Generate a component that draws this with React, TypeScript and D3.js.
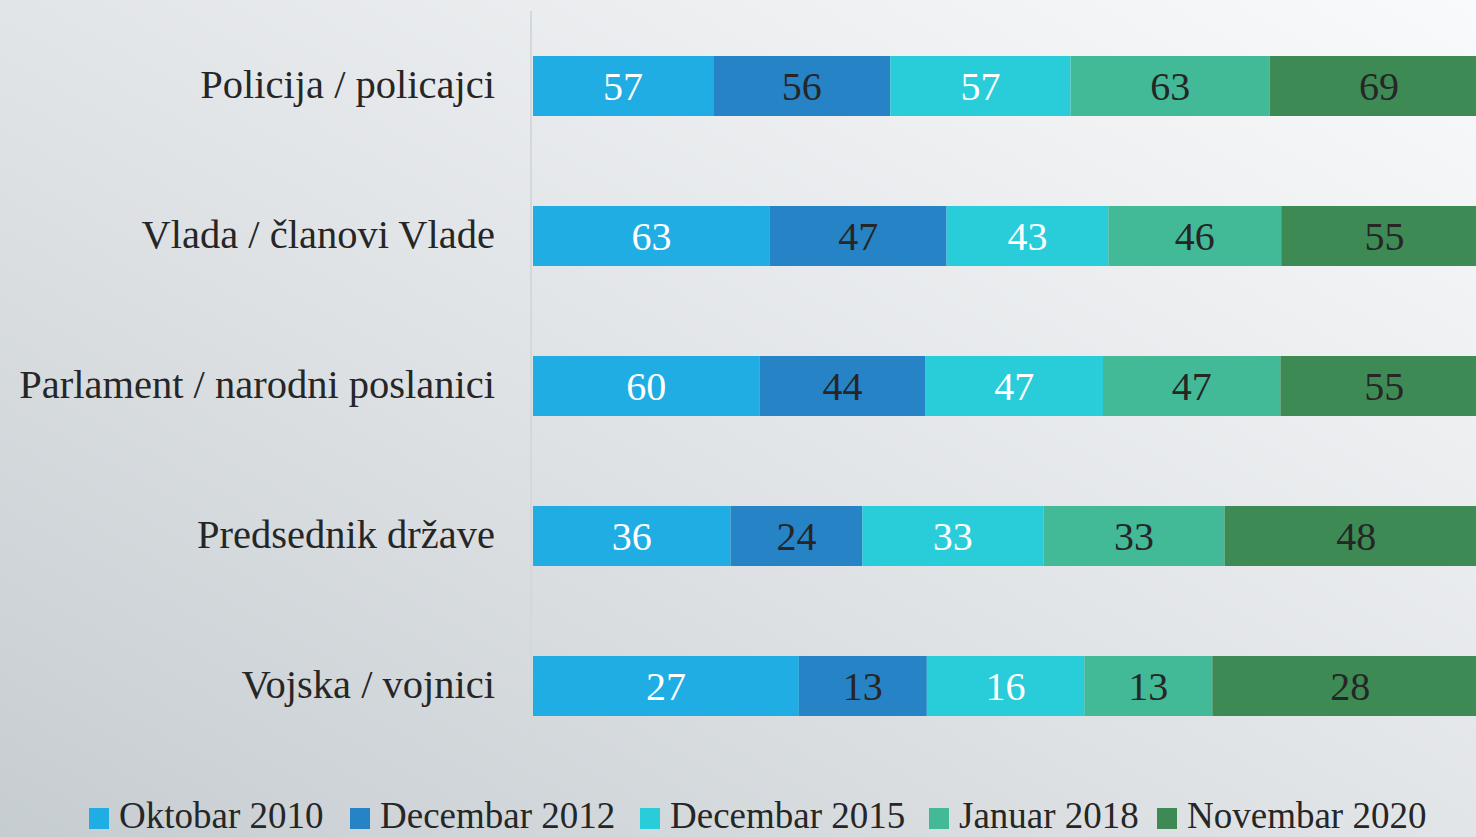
import React from "react";
import * as d3 from "d3";

const categories = [
  "Policija / policajci",
  "Vlada / članovi Vlade",
  "Parlament / narodni poslanici",
  "Predsednik države",
  "Vojska / vojnici",
];
const seriesNames = [
  "Oktobar 2010",
  "Decembar 2012",
  "Decembar 2015",
  "Januar 2018",
  "Novembar 2020",
];
const oktobar2010 = [57, 63, 60, 36, 27];
const decembar2012 = [56, 47, 44, 24, 13];
const decembar2015 = [57, 43, 47, 33, 16];
const januar2018 = [63, 46, 47, 33, 13];
const novembar2020 = [69, 55, 55, 48, 28];
const seriesValues = [oktobar2010, decembar2012, decembar2015, januar2018, novembar2020];
const colors = ["#1FADE4", "#2683C6", "#29CCD9", "#42BA97", "#3D8A55"];
const labelColors = ["#FFFFFF", "#262626", "#FFFFFF", "#262626", "#262626"];

const W = 1476;
const H = 837;
const FONT = "'Liberation Serif', 'DejaVu Serif', serif";

export default function App() {
  const x = d3.scaleLinear().domain([0, 1]).range([533, 1488]);
  const y = d3
    .scaleBand<string>()
    .domain(categories)
    .range([11, 761])
    .paddingInner(0.6)
    .paddingOuter(0.3);

  const rows = categories.map((c, i) => {
    const vals = seriesValues.map((s) => s[i]);
    const total = d3.sum(vals);
    let acc = 0;
    const segs = vals.map((v, j) => {
      const x0 = acc / total;
      acc += v;
      const x1 = acc / total;
      return { v, j, x0, x1 };
    });
    return { c, segs };
  });

  const legendX = [89, 350, 640, 929, 1157];

  return (
    <svg
      width={W}
      height={H}
      style={{ position: "absolute", left: 0, top: 0, display: "block" }}
    >
      <defs>
        <linearGradient id="bg" x1="0" y1="1" x2="1" y2="0">
          <stop offset="0" stopColor="#C6CDD1" />
          <stop offset="0.5" stopColor="#E2E5E8" />
          <stop offset="1" stopColor="#F9FAFB" />
        </linearGradient>
      </defs>
      <rect x={0} y={0} width={W} height={H} fill="url(#bg)" />
      <line x1={531} x2={531} y1={11} y2={761} stroke="#D5D8DB" strokeWidth={2} />
      {rows.map((r) => {
        const by = y(r.c)!;
        const bh = y.bandwidth();
        return (
          <g key={r.c}>
            <text
              x={495}
              y={by + bh / 2 + 12}
              textAnchor="end"
              fontFamily={FONT}
              fontSize={40.5}
              fill="#262626"
            >
              {r.c}
            </text>
            {r.segs.map((s) => (
              <g key={s.j}>
                <rect
                  x={x(s.x0)}
                  y={by}
                  width={x(s.x1) - x(s.x0)}
                  height={bh}
                  fill={colors[s.j]}
                />
                <text
                  x={(x(s.x0) + x(s.x1)) / 2}
                  y={by + bh / 2 + 14}
                  textAnchor="middle"
                  fontFamily={FONT}
                  fontSize={40}
                  fill={labelColors[s.j]}
                >
                  {s.v}
                </text>
              </g>
            ))}
          </g>
        );
      })}
      {seriesNames.map((n, j) => (
        <g key={n}>
          <rect x={legendX[j]} y={808} width={20} height={21} fill={colors[j]} />
          <text
            x={legendX[j] + 30}
            y={828}
            fontFamily={FONT}
            fontSize={37}
            fill="#262626"
          >
            {n}
          </text>
        </g>
      ))}
    </svg>
  );
}
